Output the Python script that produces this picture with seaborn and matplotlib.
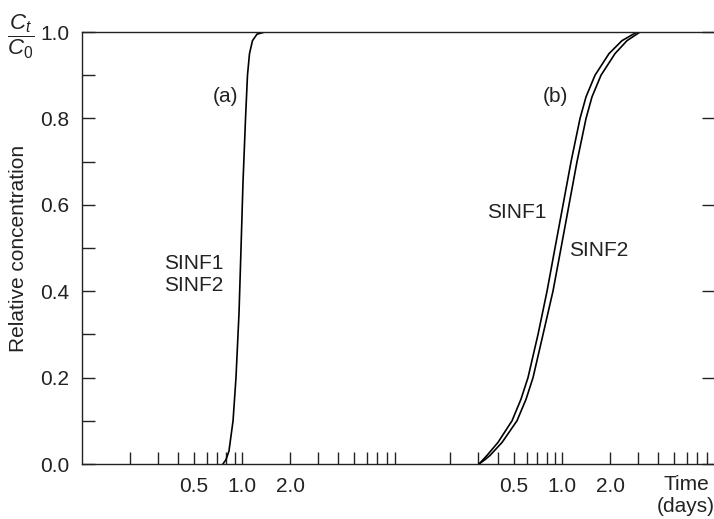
import numpy as np
import pandas as pd
import matplotlib
matplotlib.use("Agg")
import matplotlib.pyplot as plt
import seaborn as sns
from matplotlib.ticker import FixedLocator, LogLocator, NullFormatter, FixedFormatter

# curve (a): time in days, relative concentration
a_time = [0.760, 0.794, 0.829, 0.879, 0.917, 0.958, 0.986, 1.014, 1.052, 1.082, 1.114, 1.163, 1.241, 1.392]
a_conc = [0.0, 0.01, 0.03, 0.10, 0.20, 0.35, 0.50, 0.65, 0.80, 0.90, 0.95, 0.98, 0.995, 1.0]

# curves (b): time in days (drawn on the second log segment, x100)
b1_time = [0.303, 0.321, 0.340, 0.398, 0.487, 0.554, 0.613, 0.708, 0.806, 0.904,
           1.015, 1.139, 1.296, 1.413, 1.608, 1.967, 2.371, 2.943]
b1_conc = [0.0, 0.01, 0.02, 0.05, 0.10, 0.15, 0.20, 0.30, 0.40, 0.50,
           0.60, 0.70, 0.80, 0.85, 0.90, 0.95, 0.98, 1.0]
b2_time = [0.303, 0.330, 0.355, 0.422, 0.523, 0.596, 0.659, 0.761, 0.878, 0.986,
           1.106, 1.241, 1.413, 1.540, 1.753, 2.144, 2.548, 3.073]
b2_conc = [0.0, 0.01, 0.02, 0.05, 0.10, 0.15, 0.20, 0.30, 0.40, 0.50,
           0.60, 0.70, 0.80, 0.85, 0.90, 0.95, 0.98, 1.0]
b_shift = 100  # second segment sits two decades to the right

tick_vals = [0.5, 1.0, 2.0]
tick_labels = ["0.5", "1.0", "2.0"]

sns.set_style("ticks")
plt.rcParams["font.family"] = ["Liberation Sans", "DejaVu Sans"]
plt.rcParams["mathtext.fontset"] = "custom"
plt.rcParams["mathtext.it"] = "Liberation Sans:italic"
plt.rcParams["mathtext.rm"] = "Liberation Sans"
fs = 15
ink = "#222222"

fig = plt.figure(figsize=(7.14, 5.19), dpi=100)
ax = fig.add_axes([82 / 714, (519 - 464) / 519, (714 - 82) / 714, (464 - 32) / 519])

da = pd.DataFrame({"t": a_time, "c": a_conc})
d1 = pd.DataFrame({"t": np.array(b1_time) * b_shift, "c": b1_conc})
d2 = pd.DataFrame({"t": np.array(b2_time) * b_shift, "c": b2_conc})
for d in (da, d1, d2):
    sns.lineplot(data=d, x="t", y="c", ax=ax, color="black", linewidth=1.2, sort=False)

ax.set_xscale("log")
ax.set_xlim(0.1, 891)
ax.set_ylim(0, 1.0)

ax.xaxis.set_major_locator(FixedLocator(tick_vals + [v * b_shift for v in tick_vals]))
ax.xaxis.set_major_formatter(FixedFormatter(tick_labels + tick_labels))
ax.xaxis.set_minor_locator(LogLocator(base=10, subs=np.arange(2, 10)))
ax.xaxis.set_minor_formatter(NullFormatter())
ax.set_yticks(np.arange(0, 1.01, 0.2))
ax.set_yticklabels([f"{v:.1f}" for v in np.arange(0, 1.01, 0.2)])
ax.set_yticks(np.arange(0.1, 1.0, 0.2), minor=True)

ax.tick_params(axis="both", which="both", direction="in", length=9, width=1,
               color=ink, labelsize=fs, labelcolor=ink)
ax.tick_params(axis="x", which="both", pad=9)
ax.tick_params(axis="y", which="both", pad=9)
ax.tick_params(axis="y", which="major", right=True, length=4)
ax.tick_params(axis="y", which="minor", right=False)
ax.tick_params(axis="y", which="major", left=True, length=9)

for side in ("left", "bottom", "top"):
    ax.spines[side].set_color(ink)
    ax.spines[side].set_linewidth(1)
ax.spines["right"].set_visible(False)

ax.set_xlabel("")
ax.set_ylabel("Relative concentration", fontsize=fs, color=ink, labelpad=9)

# annotations
ax.text(0.783, 0.85, "(a)", fontsize=fs, color=ink, ha="center", va="center")
ax.text(90.4, 0.85, "(b)", fontsize=fs, color=ink, ha="center", va="center")
ax.text(0.326, 0.465, "SINF1", fontsize=fs, color=ink, ha="left", va="center")
ax.text(0.326, 0.414, "SINF2", fontsize=fs, color=ink, ha="left", va="center")
ax.text(34.0, 0.583, "SINF1", fontsize=fs, color=ink, ha="left", va="center")
ax.text(110.6, 0.495, "SINF2", fontsize=fs, color=ink, ha="left", va="center")

fig.text(686 / 714, 1 - 496 / 519, "Time\n(days)", fontsize=fs, color=ink,
         ha="center", va="center", linespacing=1.2)
fig.text(21 / 714, 1 - 37 / 519, r"$\dfrac{C_t}{C_0}$", fontsize=fs + 1, color=ink,
         ha="center", va="center")

fig.savefig("out.png", dpi=100)
